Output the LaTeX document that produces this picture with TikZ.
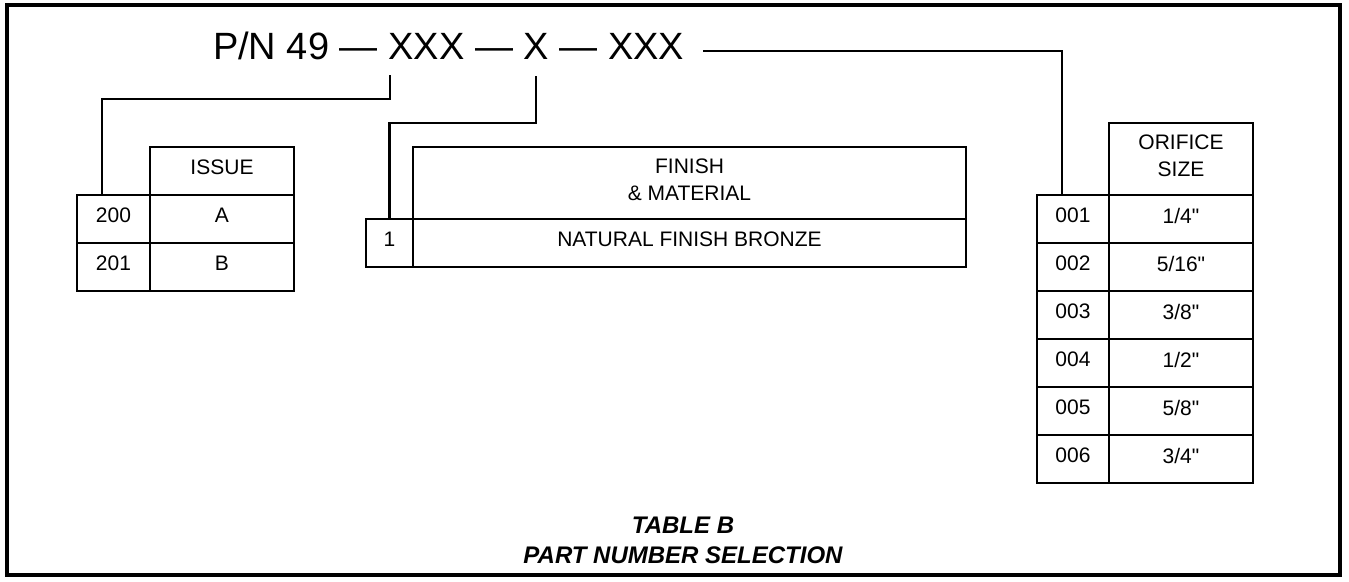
\documentclass[tikz,border=0pt]{standalone}
\usepackage{fontspec}
\newfontfamily\af{Liberation Sans}
\newcommand{\titlefont}{\af\fontsize{38}{44}\selectfont}
\newcommand{\cellfont}{\af\fontsize{21}{27}\selectfont}
\newcommand{\captfont}{\af\bfseries\itshape\fontsize{24}{30}\selectfont}
\begin{document}
\begin{tikzpicture}[x=1pt,y=-1pt,
  tt/.style={inner sep=0pt, outer sep=0pt, anchor=base west, font=\titlefont},
  cell/.style={draw, line width=2.7pt, inner sep=0pt, minimum height=48pt,
    label={[font=\cellfont, align=center, yshift=3.5pt, inner sep=0pt]center:{#1}}},
  conn/.style={line width=2.4pt},
  frame/.style={line width=3.5pt}]
\useasboundingbox (0,0) rectangle (1349,581);
\draw[frame] (7,5) rectangle (1340,575);

% title chain
\node[tt] (pn) at (213,59) {P/N 49};
\node[tt] (d1) at ([xshift=10.6pt]pn.base east) {—};
\node[tt] (xxxA) at ([xshift=10.6pt]d1.base east) {XXX};
\node[tt] (d2) at ([xshift=10.6pt]xxxA.base east) {—};
\node[tt] (xB) at ([xshift=10.6pt]d2.base east) {X};
\node[tt] (d3) at ([xshift=10.6pt]xB.base east) {—};
\node[tt] (xxxC) at ([xshift=10.6pt]d3.base east) {XXX};

% ISSUE table
\node[cell=ISSUE, minimum width=144pt] (ih) at (222,171) {};
\node[cell=200, minimum width=73pt] (i200) at (113.5,219) {};
\node[cell=A, minimum width=144pt] (iA) at (222,219) {};
\node[cell=201, minimum width=73pt] (i201) at (113.5,267) {};
\node[cell=B, minimum width=144pt] (iB) at (222,267) {};

% FINISH table
\node[cell={FINISH\\\& MATERIAL}, minimum width=553pt, minimum height=72pt] (fh) at (689.5,183) {};
\node[cell=1, minimum width=47pt] (f1) at (389.5,243) {};
\node[cell={NATURAL FINISH BRONZE}, minimum width=553pt] (fN) at (689.5,243) {};

% ORIFICE table
\node[cell={ORIFICE\\SIZE}, minimum width=144pt, minimum height=72pt] (oh) at (1181,159) {};
\node[cell=001, minimum width=72pt] (o1) at (1073,219) {};
\node[cell={1/4"}, minimum width=144pt] (s1) at (1181,219) {};
\node[cell=002, minimum width=72pt] (o2) at (1073,267) {};
\node[cell={5/16"}, minimum width=144pt] (s2) at (1181,267) {};
\node[cell=003, minimum width=72pt] (o3) at (1073,315) {};
\node[cell={3/8"}, minimum width=144pt] (s3) at (1181,315) {};
\node[cell=004, minimum width=72pt] (o4) at (1073,363) {};
\node[cell={1/2"}, minimum width=144pt] (s4) at (1181,363) {};
\node[cell=005, minimum width=72pt] (o5) at (1073,411) {};
\node[cell={5/8"}, minimum width=144pt] (s5) at (1181,411) {};
\node[cell=006, minimum width=72pt] (o6) at (1073,459) {};
\node[cell={3/4"}, minimum width=144pt] (s6) at (1181,459) {};

% connectors
\draw[conn] ([xshift=1.6pt,yshift=-16pt]xxxA.base west) -- ++(0,24) -| ([xshift=-11.5pt]i200.north);
\draw[conn] ([yshift=-17pt]xB.base) -- ++(0,47) -| (f1.north);
\draw[conn] ([xshift=19pt,yshift=8pt]xxxC.base east) -| ([xshift=-11pt]o1.north);

% caption
\node[font=\captfont, align=center, inner sep=0pt] (cap) at (683,540) {TABLE B\\PART NUMBER SELECTION};
\end{tikzpicture}
\end{document}
